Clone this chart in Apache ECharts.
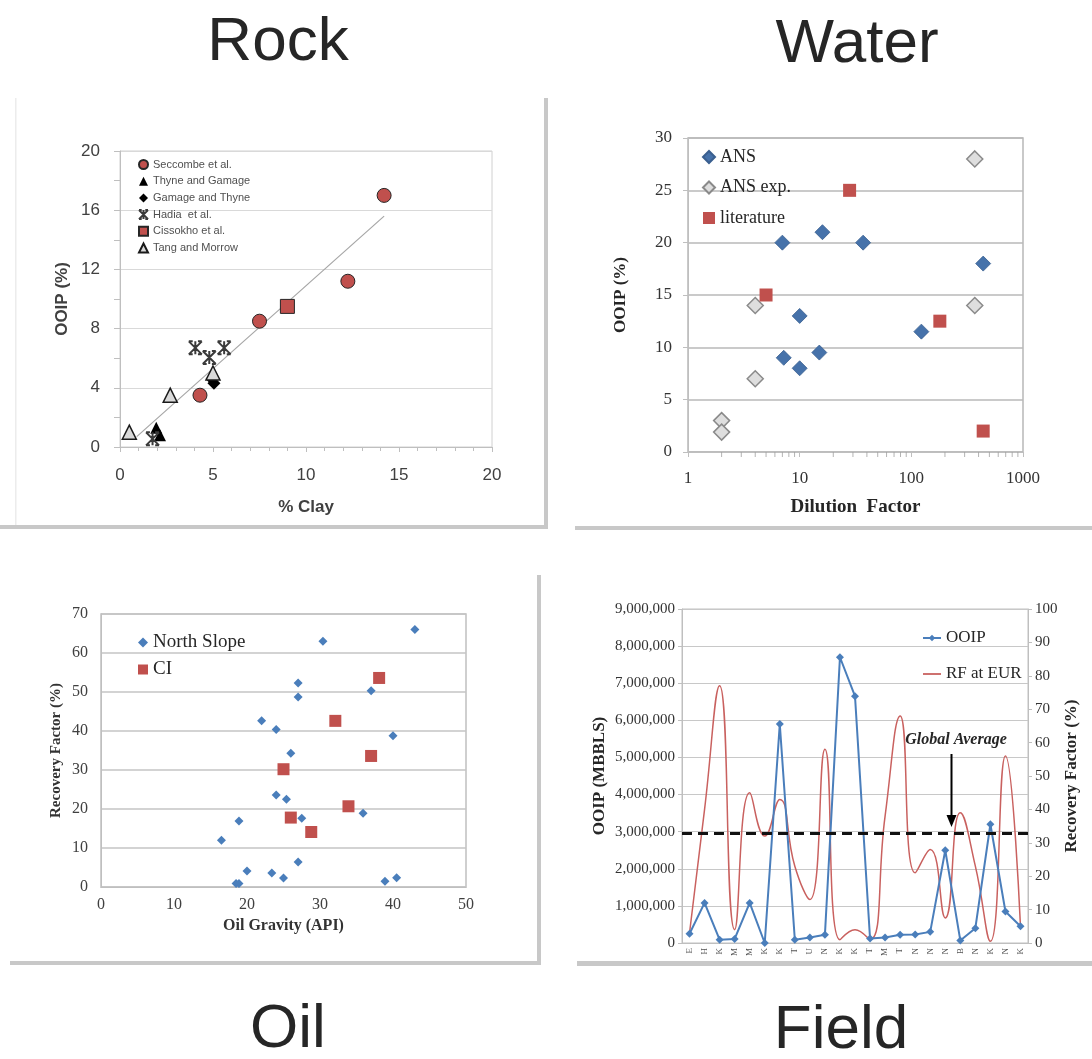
<!DOCTYPE html>
<html><head><meta charset="utf-8">
<script src="https://cdn.jsdelivr.net/npm/echarts@6/dist/echarts.min.js"></script>
<style>html,body{margin:0;padding:0;background:#fff}#c{width:1092px;height:1059px}</style>
</head><body><div id="c"></div><script>
// ---------- Rock ----------
const rockSeccombe = [[4.3,3.5],[7.5,8.5],[12.25,11.2],[14.2,17.0]];
const rockThyne = [[1.95,1.3],[2.15,0.8]];
const rockGamage = [[4.95,4.6],[5.05,4.3]];
const rockHadia = [[4.05,6.7],[4.8,6.05],[5.6,6.7],[1.75,0.55]];
const rockCissokho = [[9.0,9.5]];
const rockTang = [[0.5,1.0],[2.7,3.5],[5.0,5.0]];
const rockTrend = [[0.9,0.7],[14.2,15.6]];
// ---------- Water ----------
const waterANS = [[7,20],[16,21],[37,20],[440,18],[10,13],[7.2,9],[10,8],[15,9.5],[123,11.5]];
const waterANSexp = [[370,28],[4,14],[370,14],[4,7],[2,3],[2,1.9]];
const waterLit = [[28,25],[5,15],[180,12.5],[440,2]];
const waterMinorTicks = [2,3,4,5,6,7,8,9,20,30,40,50,60,70,80,90,200,300,400,500,600,700,800,900];
// ---------- Oil ----------
const oilNorthSlope = [[43,66],[30.4,63],[27,52.3],[27,48.7],[37,50.3],[22,42.6],[24,40.4],[40,38.8],[26,34.3],[24,23.6],[25.4,22.5],[18.9,16.9],[27.5,17.6],[35.9,18.9],[16.5,12],[27,6.4],[20,4.1],[23.4,3.6],[25,2.3],[18.5,0.9],[18.9,0.9],[38.9,1.5],[40.5,2.4]];
const oilCI = [[38.1,53.6],[32.1,42.6],[37,33.6],[25,30.2],[33.9,20.7],[26,17.8],[28.8,14.1]];
// ---------- Field ----------
const fieldCats = ['E','H','K','M','M','K','K','T','U','N','K','K','T','M','T','N','N','N','B','N','K','N','K'];
const fieldOOIP = [250000,1080000,90000,110000,1080000,0,5900000,90000,150000,220000,7700000,6650000,120000,150000,220000,230000,300000,2500000,70000,400000,3200000,850000,450000];
const fieldRF = [3,40,77,4,45,32,43,23,13,58,1,4,1,38,68,21,28,7.5,39,23,0.5,56,5];
const fieldGlobalAvg = 2950000;

const SANS = 'Liberation Sans', SERIF = 'Liberation Serif';
const chart = echarts.init(document.getElementById('c'));
const gl = '#bfbfbf';
const HADIA = 'path://M0,0L10,10M10,0L0,10M5,0L5,10M0,0L3,0M7,0L10,0M0,10L3,10M7,10L10,10';

function txt(text, x, y, font, extra) {
  return Object.assign({type:'text', x:x, y:y, z:100,
    style:{text:text, font:font, fill:'#262626', textAlign:'center', align:'center', textVerticalAlign:'middle', verticalAlign:'middle'}}, extra||{});
}

const option = {
  animation:false,
  backgroundColor:'#fff',
  grid:[
    {left:120, top:151, width:372, height:296, show:true, borderColor:'#d0d0d0', borderWidth:1},
    {left:688, top:138, width:335, height:314, show:true, borderColor:'#b8b8b8', borderWidth:1.5},
    {left:101, top:614, width:365, height:273, show:true, borderColor:'#c0c0c0', borderWidth:1.5},
    {left:682, top:609, width:346, height:334, show:true, borderColor:'#c0c0c0', borderWidth:1}
  ],
  xAxis:[
    {gridIndex:0, type:'value', min:0, max:20, interval:5,
     axisLine:{lineStyle:{color:gl}}, axisTick:{length:5, lineStyle:{color:gl}},
     minorTick:{show:true, splitNumber:5, length:4, lineStyle:{color:gl}}, splitLine:{show:false},
     axisLabel:{fontFamily:SANS, fontSize:17, color:'#404040', margin:20},
     name:'% Clay', nameLocation:'middle', nameGap:52,
     nameTextStyle:{fontFamily:SANS, fontWeight:'bold', fontSize:17, color:'#404040'}},
    {gridIndex:1, type:'log', logBase:10, min:1, max:1000,
     axisLine:{lineStyle:{color:gl}}, axisTick:{length:5, lineStyle:{color:gl}}, splitLine:{show:false},
     axisLabel:{fontFamily:SERIF, fontSize:17, color:'#333', margin:18, formatter:v=>String(Math.round(v))},
     name:'Dilution  Factor', nameLocation:'middle', nameGap:46,
     nameTextStyle:{fontFamily:SERIF, fontWeight:'bold', fontSize:19, color:'#262626'}},
    {gridIndex:2, type:'value', min:0, max:50, interval:10,
     axisLine:{lineStyle:{color:gl}}, axisTick:{show:false}, splitLine:{show:false},
     axisLabel:{fontFamily:SERIF, fontSize:16, color:'#404040', margin:10},
     name:'Oil Gravity (API)', nameLocation:'middle', nameGap:31,
     nameTextStyle:{fontFamily:SERIF, fontWeight:'bold', fontSize:16, color:'#333'}},
    {gridIndex:3, type:'category', data:fieldCats, boundaryGap:true,
     axisLine:{lineStyle:{color:gl}}, axisTick:{length:5, interval:0, lineStyle:{color:gl}},
     axisLabel:{rotate:90, fontSize:9, interval:0, margin:5, color:'#555', fontFamily:SERIF}}
  ],
  yAxis:[
    {gridIndex:0, type:'value', min:0, max:20, interval:4,
     axisLine:{show:true, lineStyle:{color:gl}}, axisTick:{show:true, length:6, lineStyle:{color:gl}},
     minorTick:{show:true, splitNumber:2, length:6, lineStyle:{color:gl}},
     splitLine:{lineStyle:{color:'#d9d9d9', width:1.2}},
     axisLabel:{fontFamily:SANS, fontSize:17, color:'#404040', margin:20},
     name:'OOIP (%)', nameLocation:'middle', nameGap:49,
     nameTextStyle:{fontFamily:SANS, fontWeight:'bold', fontSize:17, color:'#404040'}},
    {gridIndex:1, type:'value', min:0, max:30, interval:5,
     axisLine:{show:true, lineStyle:{color:gl}}, axisTick:{show:true, length:5, lineStyle:{color:gl}},
     splitLine:{lineStyle:{color:'#b8b8b8', width:1.5}},
     axisLabel:{fontFamily:SERIF, fontSize:17, color:'#333', margin:16},
     name:'OOIP (%)', nameLocation:'middle', nameGap:59,
     nameTextStyle:{fontFamily:SERIF, fontWeight:'bold', fontSize:17, color:'#262626'}},
    {gridIndex:2, type:'value', min:0, max:70, interval:10,
     axisLine:{show:true, lineStyle:{color:gl}}, axisTick:{show:false},
     splitLine:{lineStyle:{color:'#c4c4c4', width:1.5}},
     axisLabel:{fontFamily:SERIF, fontSize:16, color:'#404040', margin:13},
     name:'Recovery Factor (%)', nameLocation:'middle', nameGap:37,
     nameTextStyle:{fontFamily:SERIF, fontWeight:'bold', fontSize:15, color:'#333'}},
    {gridIndex:3, type:'value', min:0, max:9000000, interval:1000000,
     axisLine:{show:true, lineStyle:{color:gl}}, axisTick:{show:true, length:4, lineStyle:{color:gl}},
     splitLine:{lineStyle:{color:'#c8c8c8', width:1.2}},
     axisLabel:{fontFamily:SERIF, fontSize:15, color:'#333', margin:7, formatter:v=>v.toLocaleString('en-US')},
     name:'OOIP (MBBLS)', nameLocation:'middle', nameGap:74,
     nameTextStyle:{fontFamily:SERIF, fontWeight:'bold', fontSize:17, color:'#262626'}},
    {gridIndex:3, type:'value', position:'right', min:0, max:100, interval:10,
     axisLine:{show:true, lineStyle:{color:gl}}, axisTick:{show:true, length:4, lineStyle:{color:gl}},
     splitLine:{show:false},
     axisLabel:{fontFamily:SERIF, fontSize:15, color:'#333', margin:7},
     name:'Recovery Factor (%)', nameLocation:'middle', nameGap:35,
     nameTextStyle:{fontFamily:SERIF, fontWeight:'bold', fontSize:17, color:'#262626'}}
  ],
  legend:[
    {data:['Seccombe et al.','Thyne and Gamage','Gamage and Thyne','Hadia  et al.','Cissokho et al.','Tang and Morrow'],
     orient:'vertical', left:138, top:158, padding:0, itemWidth:9, itemHeight:9, itemGap:3.7, selectedMode:false,
     textStyle:{fontFamily:SANS, fontSize:11, color:'#505050', lineHeight:13}},
    {data:['ANS','ANS exp.','literature'], orient:'vertical', left:702, top:147, padding:0,
     itemWidth:12, itemHeight:12, itemGap:10.5, selectedMode:false,
     textStyle:{fontFamily:SERIF, fontSize:18, color:'#262626', lineHeight:20}},
    {data:['North Slope','CI'], orient:'vertical', left:138, top:632, padding:0,
     itemWidth:10, itemHeight:10, itemGap:6, selectedMode:false,
     textStyle:{fontFamily:SERIF, fontSize:19, color:'#262626', lineHeight:21}},
    {data:[{name:'OOIP'}, {name:'RF at EUR', icon:'path://M0,0H20V2H0Z'}], orient:'vertical', left:922, top:629, padding:0,
     itemWidth:18, itemHeight:8, itemGap:18, selectedMode:false,
     textStyle:{fontFamily:SERIF, fontSize:17, color:'#262626', lineHeight:18}}
  ],
  series:[
    {name:'trend', type:'line', xAxisIndex:0, yAxisIndex:0, data:rockTrend, symbol:'none', silent:true, z:1,
     lineStyle:{color:'#a6a6a6', width:1.2}},
    {name:'Seccombe et al.', type:'scatter', xAxisIndex:0, yAxisIndex:0, data:rockSeccombe, symbol:'circle', symbolSize:14,
     itemStyle:{color:'#c0504d', borderColor:'#262626', borderWidth:1, opacity:1}},
    {name:'Thyne and Gamage', type:'scatter', xAxisIndex:0, yAxisIndex:0, data:rockThyne, symbol:'triangle', symbolSize:12,
     itemStyle:{color:'#000', opacity:1}},
    {name:'Gamage and Thyne', type:'scatter', xAxisIndex:0, yAxisIndex:0, data:rockGamage, symbol:'diamond', symbolSize:13,
     itemStyle:{color:'#000', opacity:1}},
    {name:'Hadia  et al.', type:'scatter', xAxisIndex:0, yAxisIndex:0, data:rockHadia, symbol:HADIA, symbolSize:13,
     itemStyle:{color:'rgba(0,0,0,0)', borderColor:'#3a3a3a', borderWidth:2, opacity:1}},
    {name:'Cissokho et al.', type:'scatter', xAxisIndex:0, yAxisIndex:0, data:rockCissokho, symbol:'rect', symbolSize:14,
     itemStyle:{color:'#c0504d', borderColor:'#262626', borderWidth:1, opacity:1}},
    {name:'Tang and Morrow', type:'scatter', xAxisIndex:0, yAxisIndex:0, data:rockTang, symbol:'triangle', symbolSize:14,
     itemStyle:{color:'#d9d9d9', borderColor:'#1a1a1a', borderWidth:1.5, opacity:1}},

    {name:'minor', type:'scatter', xAxisIndex:1, yAxisIndex:1, data:waterMinorTicks.map(v=>[v,0]), symbol:'rect',
     symbolSize:[1,5], symbolOffset:[0,2.5], silent:true, clip:false, z:1, itemStyle:{color:'#a0a0a0'}},
    {name:'ANS', type:'scatter', xAxisIndex:1, yAxisIndex:1, data:waterANS, symbol:'diamond', symbolSize:15,
     itemStyle:{color:'#4672aa', borderColor:'#3a5f8f', borderWidth:0.8, opacity:1}},
    {name:'ANS exp.', type:'scatter', xAxisIndex:1, yAxisIndex:1, data:waterANSexp, symbol:'diamond', symbolSize:16,
     itemStyle:{color:'#dedede', borderColor:'#8a8a8a', borderWidth:1.5, opacity:1}},
    {name:'literature', type:'scatter', xAxisIndex:1, yAxisIndex:1, data:waterLit, symbol:'rect', symbolSize:13,
     itemStyle:{color:'#c0504d', opacity:1}},

    {name:'North Slope', type:'scatter', xAxisIndex:2, yAxisIndex:2, data:oilNorthSlope, symbol:'diamond', symbolSize:9,
     itemStyle:{color:'#4a7ebb', opacity:1}},
    {name:'CI', type:'scatter', xAxisIndex:2, yAxisIndex:2, data:oilCI, symbol:'rect', symbolSize:12,
     itemStyle:{color:'#c0504d', opacity:1}},

    {name:'RF at EUR', type:'line', xAxisIndex:3, yAxisIndex:4, data:fieldRF, smooth:0.5, symbol:'none',
     lineStyle:{color:'#c9615f', width:1.5}, itemStyle:{color:'#c9615f'}},
    {name:'OOIP', type:'line', xAxisIndex:3, yAxisIndex:3, data:fieldOOIP, symbol:'diamond', symbolSize:8,
     lineStyle:{color:'#4a7ebb', width:2}, itemStyle:{color:'#4a7ebb'},
     markLine:{silent:true, symbol:'none', label:{show:false},
       lineStyle:{color:'#111', width:3, type:[10,6]},
       data:[{yAxis:fieldGlobalAvg}]}}
  ],
  graphic:{elements:[
    txt('Rock', 278, 43, '62px "Liberation Sans"'),
    txt('Water', 857, 45, '62px "Liberation Sans"'),
    txt('Oil', 288, 1030, '62px "Liberation Sans"'),
    txt('Field', 841, 1031, '62px "Liberation Sans"'),
    txt('Global Average', 956, 740, 'italic bold 16px "Liberation Serif"', {}),
    {type:'line', z:100, shape:{x1:951.5, y1:754, x2:951.5, y2:818}, style:{stroke:'#000', lineWidth:2}},
    {type:'polygon', z:100, shape:{points:[[946.5,815],[956.5,815],[951.5,827]]}, style:{fill:'#000'}},
    {type:'rect', z:50, shape:{x:15, y:98, width:1.5, height:430}, style:{fill:'#ececec'}},
    {type:'rect', z:50, shape:{x:544, y:98, width:4, height:431}, style:{fill:'#c8c8c8'}},
    {type:'rect', z:50, shape:{x:0, y:525, width:548, height:4}, style:{fill:'#c8c8c8'}},
    {type:'rect', z:50, shape:{x:575, y:526, width:517, height:4}, style:{fill:'#c8c8c8'}},
    {type:'rect', z:50, shape:{x:537, y:575, width:4, height:390}, style:{fill:'#c8c8c8'}},
    {type:'rect', z:50, shape:{x:10, y:961, width:531, height:4}, style:{fill:'#c8c8c8'}},
    {type:'rect', z:50, shape:{x:577, y:961, width:515, height:5}, style:{fill:'#c8c8c8'}}
  ]}
};
chart.setOption(option);
</script></body></html>
